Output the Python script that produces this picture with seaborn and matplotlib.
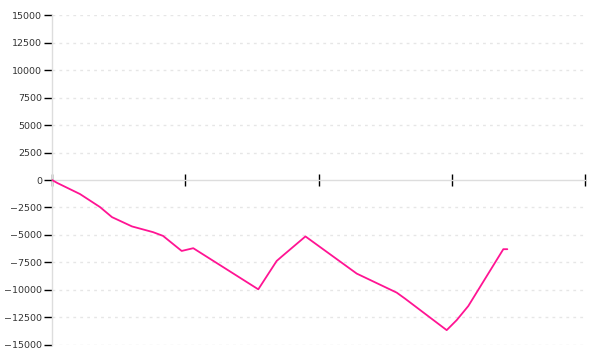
import matplotlib
matplotlib.use("Agg")
import matplotlib.pyplot as plt
import seaborn as sns
import pandas as pd

# data (x in axis units, ticks at 0..4)
x_vals = [0.0, 0.04, 0.21, 0.36, 0.45, 0.60, 0.758, 0.833, 0.973, 1.06,
          1.548, 1.686, 1.724, 1.902, 2.287, 2.587, 2.65, 2.962, 3.037,
          3.124, 3.387, 3.417]
y_vals = [0, -274, -1277, -2460, -3375, -4220, -4740, -5080, -6450, -6200,
          -9940, -7360, -6960, -5130, -8510, -10240, -10790, -13650, -12740,
          -11460, -6290, -6290]
x_ticks = [0, 1, 2, 3, 4]
y_ticks = [-15000, -12500, -10000, -7500, -5000, -2500, 0,
           2500, 5000, 7500, 10000, 12500, 15000]

df = pd.DataFrame({"x": x_vals, "y": y_vals})

sns.set_style("white")
plt.rcParams['font.family'] = ['DejaVu Sans']

fig = plt.figure(figsize=(6, 3.6), dpi=100)
ax = fig.add_axes([0.0867, 0.0417, 0.8883, 0.9166])

sns.lineplot(data=df, x="x", y="y", ax=ax, color="#ff1493", linewidth=1.3,
             sort=False, zorder=5)

ax.set_xlim(0, 4)
ax.set_ylim(-15000, 15000)
ax.set_xticks(x_ticks)
ax.set_xticklabels([])
ax.set_yticks(y_ticks)
ax.set_yticklabels([str(t).replace('-', '\u2212') for t in y_ticks],
                   fontsize=6.8, color="#333333")
ax.set_xlabel("")
ax.set_ylabel("")

for t in y_ticks:
    if t != 0:
        ax.axhline(t, color="#e6e6e6", linewidth=1, linestyle=(0, (2, 3)),
                   zorder=1)

ax.spines['top'].set_visible(False)
ax.spines['right'].set_visible(False)
ax.spines['left'].set_color("#dddddd")
ax.spines['left'].set_linewidth(1)
ax.spines['bottom'].set_position(('data', 0))
ax.spines['bottom'].set_color("#dddddd")
ax.spines['bottom'].set_linewidth(1)

ax.tick_params(axis='y', which='major', direction='out', length=6, width=1,
               color='black', pad=1, left=True)
ax.tick_params(axis='x', which='major', direction='inout', length=9, width=1,
               color='black', bottom=True)

fig.savefig("out.png", dpi=100)
